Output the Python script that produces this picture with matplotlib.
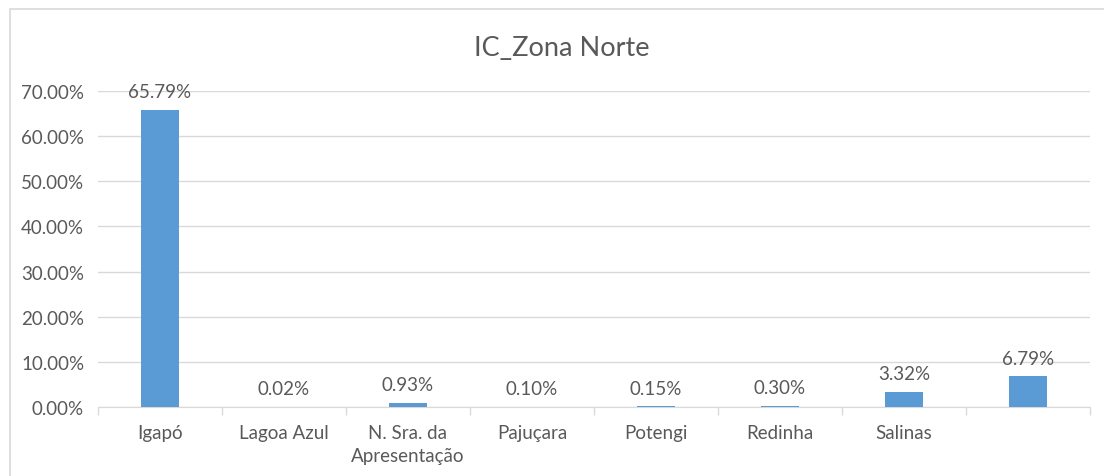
import matplotlib
matplotlib.use("Agg")
import matplotlib.pyplot as plt
from matplotlib.patches import Rectangle
from matplotlib.ticker import FuncFormatter
import numpy as np

plt.rcParams["font.family"] = ["Lato", "DejaVu Sans"]

bairros = ["Igapó", "Lagoa Azul", "N. Sra. da\nApresentação", "Pajuçara",
           "Potengi", "Redinha", "Salinas", ""]
valores = [65.79, 0.02, 0.93, 0.10, 0.15, 0.30, 3.32, 6.79]
y_ticks = [0, 10, 20, 30, 40, 50, 60, 70]

BLUE = "#5B9BD5"
GRID = "#D9D9D9"
TXT = "#595959"

fig = plt.figure(figsize=(11.04, 4.77), dpi=100)
# light frame of the chart area (right/bottom edges are cut off in the original)
fig.patches.append(Rectangle((10 / 1104, -0.1), 1.2, 1.1 - 10 / 477,
                             transform=fig.transFigure, fill=False,
                             edgecolor=GRID, linewidth=1.2))
fig.text(562 / 1104, 1 - 48 / 477, "IC_Zona Norte", ha="center", va="center",
         fontsize=19.5, color=TXT)

ax = fig.add_axes([98 / 1104, 69 / 477, 992 / 1104, 316 / 477])
x = np.arange(len(bairros))
ax.bar(x, valores, width=0.31, color=BLUE, zorder=3)
for xi, v in zip(x, valores):
    ax.annotate(f"{v:.2f}%", (xi, v), xytext=(0, 7), textcoords="offset points",
                ha="center", va="bottom", fontsize=13.5, color=TXT)

ax.set_xlim(-0.5, len(bairros) - 0.5)
ax.set_ylim(0, 70)
ax.set_yticks(y_ticks)
ax.yaxis.set_major_formatter(FuncFormatter(lambda v, p: f"{v:.2f}%"))
ax.grid(axis="y", color=GRID, linewidth=1, zorder=0)

ax.set_xticks(x)
ax.set_xticklabels(bairros, linespacing=1.45)
ax.set_xticks(np.arange(len(bairros) + 1) - 0.5, minor=True)
ax.tick_params(axis="x", which="major", length=0, pad=12, labelsize=13.5, colors=TXT)
ax.tick_params(axis="x", which="minor", length=6, color=GRID, width=1)
ax.tick_params(axis="y", length=0, pad=10, labelsize=13.5, colors=TXT)

for s in ["top", "right", "left"]:
    ax.spines[s].set_visible(False)
ax.spines["bottom"].set_color(GRID)

fig.savefig("out.png", dpi=100)
